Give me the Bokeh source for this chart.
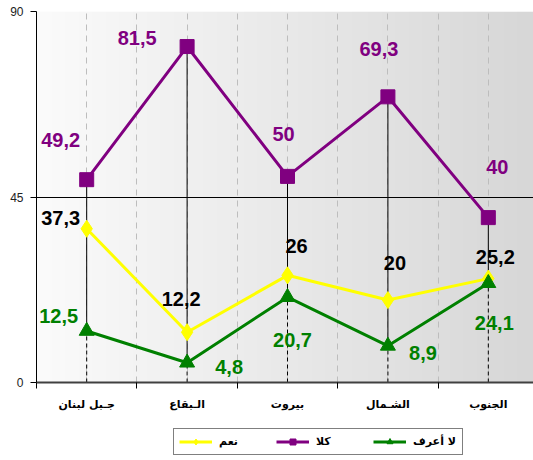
import numpy as np
from bokeh.plotting import figure
from bokeh.layouts import column
from bokeh.models import FixedTicker, Grid, Legend, LegendItem, ColumnDataSource
from bokeh.core.properties import value
from bokeh.embed import file_html
from bokeh.resources import INLINE

# ---- data ----
categories = ["جـبل لبنان", "الـبقاع", "بيروت", "الشـمال", "الجنوب"]
yes = [37.3, 12.2, 26, 20, 25.2]          # نعم
no = [49.2, 81.5, 50, 69.3, 40]           # كلا
dont_know = [12.5, 4.8, 20.7, 8.9, 24.1]  # لا أعرف
y_ticks = [0, 45, 90]

# label offsets (style, pixels)
off_no = [(-26, -40), (-50, -9), (-4, -42), (-9, -48), (9, -51)]
off_yes = [(-26, -11), (-6, -33), (9, -29), (7, -37), (7, -22)]
off_dk = [(-28, -15), (42, 4), (5, 43), (35, 7), (6, 40)]

xs = list(range(1, len(categories) + 1))


def fmt(v):
    return ("%g" % v).replace(".", ",")


p = figure(width=533, height=420, x_range=(0.5, 5.45), y_range=(0, 90),
           output_backend="svg", toolbar_location=None,
           min_border_left=36, min_border_right=0, min_border_top=11,
           min_border_bottom=38, background_fill_color="white",
           border_fill_color="white")
p.outline_line_color = None

# gradient background
n = 256
t = np.linspace(0, 1, n)
gray = (251 - t * (251 - 215)).astype(np.uint8)
img = np.empty((2, n), dtype=np.uint32)
view = img.view(dtype=np.uint8).reshape((2, n, 4))
view[..., 0] = gray
view[..., 1] = gray
view[..., 2] = gray
view[..., 3] = 255
p.image_rgba(image=[img], x=0.5, y=0, dw=4.95, dh=90, level="image")

# grids
p.xgrid.ticker = FixedTicker(ticks=[1, 1.5, 2, 2.5, 3, 3.5, 4, 4.5, 5, 5.5])
p.xgrid.grid_line_color = "#bdbdbd"
p.xgrid.grid_line_dash = "6 5"
p.xgrid.grid_line_width = 1
p.ygrid.ticker = FixedTicker(ticks=[45])
p.ygrid.grid_line_color = "black"
p.ygrid.grid_line_width = 1
p.add_layout(Grid(dimension=1, ticker=FixedTicker(ticks=[90]),
                  grid_line_color="#8a8a8a", grid_line_width=1))

# drop lines
all_series = [yes, no, dont_know]
hi = [max(s[i] for s in all_series) for i in range(len(xs))]
lo = [min(s[i] for s in all_series) for i in range(len(xs))]
p.segment(x0=xs, y0=lo, x1=xs, y1=hi, line_color="black", line_width=1)
p.segment(x0=xs, y0=[0] * len(xs), x1=xs, y1=lo, line_color="black",
          line_width=1, line_dash="4 3")

# legend figure (holds the legend below the chart)
p2 = figure(width=533, height=40, x_range=(0.5, 5.45), y_range=(1000, 1001),
            output_backend="svg", toolbar_location=None,
            x_axis_type=None, y_axis_type=None,
            min_border_left=0, min_border_right=0, min_border_top=0,
            min_border_bottom=0, background_fill_color="white",
            border_fill_color="white")
p2.outline_line_color = None
p2.xgrid.visible = False
p2.ygrid.visible = False

# series
specs = [
    (yes, "#ffff00", "diamond", 17, "black", off_yes, "نعم"),
    (no, "#800080", "square", 14, "#800080", off_no, "كلا"),
    (dont_know, "#008000", "triangle", 15, "#008000", off_dk, "لا أعرف"),
]
items = []
for vals, col, marker, size, tcol, offs, name in specs:
    p.line(xs, vals, line_color=col, line_width=3)
    p.scatter(xs, vals, marker=marker, size=size, fill_color=col,
              line_color=col)
    src = ColumnDataSource(dict(x=xs, y=vals, t=[fmt(v) for v in vals],
                                dx=[o[0] for o in offs],
                                dy=[o[1] for o in offs]))
    p.text(x="x", y="y", text="t", x_offset="dx", y_offset="dy", source=src,
           text_color=tcol, text_font=value("Liberation Sans"),
           text_font_style="bold", text_font_size="20px",
           text_align="center", text_baseline="middle")
    ln2 = p2.line(xs, vals, line_color=col, line_width=3)
    sc2 = p2.scatter(xs, vals, marker=marker, size=size, fill_color=col,
                     line_color=col)
    items.append(LegendItem(label=name, renderers=[ln2, sc2]))

# x axis
xa = p.xaxis[0]
xa.ticker = FixedTicker(ticks=xs, minor_ticks=[0.5, 1.5, 2.5, 3.5, 4.5, 5.5])
xa.major_label_overrides = {x: c for x, c in zip(xs, categories)}
xa.major_tick_out = 0
xa.major_tick_in = 0
xa.minor_tick_out = 6
xa.minor_tick_in = 0
xa.minor_tick_line_color = "black"
xa.axis_line_color = "#404040"
xa.axis_line_width = 2
xa.major_label_standoff = 9
xa.major_label_text_font = "DejaVu Sans"
xa.major_label_text_font_style = "bold"
xa.major_label_text_font_size = "11px"
xa.major_label_text_color = "black"

# y axis
ya = p.yaxis[0]
ya.ticker = FixedTicker(ticks=y_ticks)
ya.major_tick_out = 6
ya.major_tick_in = 0
ya.minor_tick_line_color = None
ya.axis_line_color = "black"
ya.major_tick_line_color = "black"
ya.major_label_standoff = 7
ya.major_label_text_font = "Liberation Sans"
ya.major_label_text_font_size = "12px"
ya.major_label_text_color = "#222222"

legend = Legend(items=items, orientation="horizontal",
                location=(137, 5), margin=0,
                glyph_width=33, glyph_height=15,
                label_standoff=7, label_width=44, label_height=15,
                spacing=13, padding=5, border_line_color="black",
                border_line_width=1, background_fill_color="white",
                background_fill_alpha=1,
                label_text_font="DejaVu Sans", label_text_font_style="bold",
                label_text_font_size="11px", label_text_color="black")
p2.add_layout(legend, "center")

layout = column(p, p2, spacing=0)
open("out.html", "w").write(file_html(layout, INLINE))
